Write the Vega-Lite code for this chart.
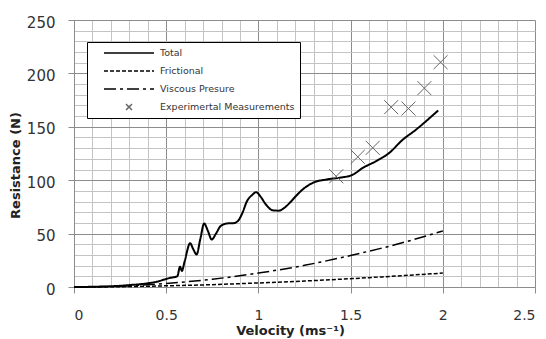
{
  "$schema": "https://vega.github.io/schema/vega-lite/v6.json",
  "width": 461,
  "height": 267,
  "autosize": {"type": "none"},
  "padding": {"left": 74, "top": 20, "right": 11, "bottom": 52},
  "background": "white",
  "datasets": {
    "lines": [
      {"series": "Total", "v": 0, "r": 0},
      {"series": "Total", "v": 0.1, "r": 0.2},
      {"series": "Total", "v": 0.2, "r": 0.7},
      {"series": "Total", "v": 0.3, "r": 1.8},
      {"series": "Total", "v": 0.4, "r": 3.5},
      {"series": "Total", "v": 0.45, "r": 5},
      {"series": "Total", "v": 0.49, "r": 7},
      {"series": "Total", "v": 0.52, "r": 8.5},
      {"series": "Total", "v": 0.56, "r": 10},
      {"series": "Total", "v": 0.575, "r": 19},
      {"series": "Total", "v": 0.585, "r": 15},
      {"series": "Total", "v": 0.6, "r": 24},
      {"series": "Total", "v": 0.63, "r": 41},
      {"series": "Total", "v": 0.645, "r": 36},
      {"series": "Total", "v": 0.665, "r": 30.5},
      {"series": "Total", "v": 0.685, "r": 45},
      {"series": "Total", "v": 0.706, "r": 59.5},
      {"series": "Total", "v": 0.725, "r": 53},
      {"series": "Total", "v": 0.747, "r": 44.5},
      {"series": "Total", "v": 0.77, "r": 50},
      {"series": "Total", "v": 0.795, "r": 57},
      {"series": "Total", "v": 0.83, "r": 59.5},
      {"series": "Total", "v": 0.865, "r": 59.8},
      {"series": "Total", "v": 0.89, "r": 62},
      {"series": "Total", "v": 0.91, "r": 68},
      {"series": "Total", "v": 0.94, "r": 81},
      {"series": "Total", "v": 0.965, "r": 86},
      {"series": "Total", "v": 0.988, "r": 88.8},
      {"series": "Total", "v": 1.01, "r": 85},
      {"series": "Total", "v": 1.042, "r": 77},
      {"series": "Total", "v": 1.078, "r": 71.8},
      {"series": "Total", "v": 1.11, "r": 71.5},
      {"series": "Total", "v": 1.14, "r": 74},
      {"series": "Total", "v": 1.17, "r": 78.8},
      {"series": "Total", "v": 1.2, "r": 84.5},
      {"series": "Total", "v": 1.24, "r": 91.3},
      {"series": "Total", "v": 1.295, "r": 97.5},
      {"series": "Total", "v": 1.37, "r": 100.7},
      {"series": "Total", "v": 1.44, "r": 102.3},
      {"series": "Total", "v": 1.51, "r": 105},
      {"series": "Total", "v": 1.566, "r": 111.5},
      {"series": "Total", "v": 1.64, "r": 118},
      {"series": "Total", "v": 1.71, "r": 125.6},
      {"series": "Total", "v": 1.78, "r": 137.5},
      {"series": "Total", "v": 1.856, "r": 147.5},
      {"series": "Total", "v": 1.93, "r": 158.4},
      {"series": "Total", "v": 1.975, "r": 165.3},
      {"series": "Frictional", "v": 0, "r": 0},
      {"series": "Frictional", "v": 0.25, "r": 0.3},
      {"series": "Frictional", "v": 0.5, "r": 1.1},
      {"series": "Frictional", "v": 0.75, "r": 2.2},
      {"series": "Frictional", "v": 1.0, "r": 3.8},
      {"series": "Frictional", "v": 1.25, "r": 5.6},
      {"series": "Frictional", "v": 1.5, "r": 7.8},
      {"series": "Frictional", "v": 1.75, "r": 10.3},
      {"series": "Frictional", "v": 2.0, "r": 13},
      {"series": "Viscous Presure", "v": 0, "r": 0},
      {"series": "Viscous Presure", "v": 0.25, "r": 0.8},
      {"series": "Viscous Presure", "v": 0.5, "r": 3.3},
      {"series": "Viscous Presure", "v": 0.75, "r": 7.3},
      {"series": "Viscous Presure", "v": 1.0, "r": 13},
      {"series": "Viscous Presure", "v": 1.25, "r": 20.3},
      {"series": "Viscous Presure", "v": 1.5, "r": 29.5},
      {"series": "Viscous Presure", "v": 1.75, "r": 40},
      {"series": "Viscous Presure", "v": 2.0, "r": 52.5}
    ],
    "points": [
      {"series": "Experimertal Measurements", "v": 1.422, "r": 103.7},
      {"series": "Experimertal Measurements", "v": 1.539, "r": 121.9},
      {"series": "Experimertal Measurements", "v": 1.62, "r": 130.3},
      {"series": "Experimertal Measurements", "v": 1.72, "r": 168.4},
      {"series": "Experimertal Measurements", "v": 1.814, "r": 167.1},
      {"series": "Experimertal Measurements", "v": 1.9, "r": 186.2},
      {"series": "Experimertal Measurements", "v": 1.988, "r": 210.5}
    ]
  },
  "encoding": {
    "x": {
      "field": "v", "type": "quantitative",
      "scale": {"domain": [0, 2.5], "nice": false, "zero": false},
      "axis": {
        "title": "Velocity (ms⁻¹)",
        "values": [0, 0.1, 0.2, 0.3, 0.4, 0.5, 0.6, 0.7, 0.8, 0.9, 1, 1.1, 1.2, 1.3, 1.4, 1.5, 1.6, 1.7, 1.8, 1.9, 2, 2.1, 2.2, 2.3, 2.4, 2.5],
        "format": "~g",
        "labelExpr": "round(datum.value*10) % 5 === 0 ? datum.label : ''",
        "gridColor": {"condition": {"test": "round(datum.value*10) % 5 === 0", "value": "#8c8c8c"}, "value": "#c4c4c4"},
        "tickOpacity": {"condition": {"test": "round(datum.value*10) % 5 === 0", "value": 1}, "value": 0},
        "tickSize": 6,
        "labelFontSize": 14,
        "labelPadding": 15,
        "titleX": 216,
        "titlePadding": 2
      }
    },
    "y": {
      "field": "r", "type": "quantitative",
      "scale": {"domain": [0, 250], "nice": false},
      "axis": {
        "title": "Resistance (N)",
        "values": [0, 10, 20, 30, 40, 50, 60, 70, 80, 90, 100, 110, 120, 130, 140, 150, 160, 170, 180, 190, 200, 210, 220, 230, 240, 250],
        "labelExpr": "datum.value % 50 === 0 ? datum.label : ''",
        "gridColor": {"condition": {"test": "datum.value % 50 === 0", "value": "#8c8c8c"}, "value": "#c4c4c4"},
        "tickOpacity": {"condition": {"test": "datum.value % 50 === 0", "value": 1}, "value": 0},
        "tickSize": 6,
        "labelPadding": 13,
        "labelBaseline": "middle",
        "labelOffset": 2,
        "titleY": 145,
        "titlePadding": 4
      }
    }
  },
  "layer": [
    {
      "data": {"name": "lines"},
      "transform": [{"filter": "datum.series !== 'Total'"}],
      "mark": {"type": "line", "strokeWidth": 1.5, "interpolate": "monotone"},
      "encoding": {
        "strokeDash": {"field": "series", "type": "nominal", "title": null,
          "scale": {"domain": ["Total", "Frictional", "Viscous Presure", "Experimertal Measurements"], "range": [[1, 0], [4, 2], [12, 4, 3, 4], [1, 0]]}},
        "color": {"field": "series", "type": "nominal", "title": null,
          "scale": {"domain": ["Total", "Frictional", "Viscous Presure", "Experimertal Measurements"], "range": ["#000000", "#000000", "#000000", "#666666"]}}
      }
    },
    {
      "data": {"name": "lines"},
      "transform": [{"filter": "datum.series === 'Total'"}],
      "mark": {"type": "line", "strokeWidth": 2, "interpolate": "monotone"},
      "encoding": {
        "strokeDash": {"field": "series", "type": "nominal", "title": null,
          "scale": {"domain": ["Total", "Frictional", "Viscous Presure", "Experimertal Measurements"], "range": [[1, 0], [4, 2], [12, 4, 3, 4], [1, 0]]}},
        "color": {"field": "series", "type": "nominal", "title": null,
          "scale": {"domain": ["Total", "Frictional", "Viscous Presure", "Experimertal Measurements"], "range": ["#000000", "#000000", "#000000", "#666666"]}}
      }
    },
    {
      "data": {"name": "points"},
      "mark": {"type": "point", "filled": false, "size": 544, "strokeWidth": 1, "opacity": 1},
      "encoding": {
        "shape": {"field": "series", "type": "nominal", "title": null,
          "scale": {"domain": ["Total", "Frictional", "Viscous Presure", "Experimertal Measurements"], "range": ["M-5,0L5,0", "M-5,0L5,0", "M-5,0L5,0", "M-0.6,-0.6L0.6,0.6M0.6,-0.6L-0.6,0.6"]}},
        "color": {"field": "series", "type": "nominal", "title": null,
          "scale": {"domain": ["Total", "Frictional", "Viscous Presure", "Experimertal Measurements"], "range": ["#000000", "#000000", "#000000", "#666666"]}}
      }
    }
  ],
  "config": {
    "view": {"stroke": null},
    "font": "DejaVu Sans",
    "axis": {
      "domainColor": "#8c8c8c",
      "tickColor": "#8c8c8c",
      "labelFont": "DejaVu Sans",
      "labelFontSize": 15,
      "labelColor": "#333333",
      "titleFont": "DejaVu Sans",
      "titleFontSize": 13,
      "titleFontWeight": "bold",
      "titleColor": "#222222",
      "grid": true,
      "gridWidth": 1
    },
    "legend": {
      "orient": "none",
      "legendX": 13,
      "legendY": 22,
      "padding": 5,
      "symbolOffset": 31,
      "strokeColor": "#000000",
      "fillColor": "#ffffff",
      "labelFont": "DejaVu Sans",
      "labelFontSize": 9.5,
      "labelColor": "#333333",
      "labelOffset": 25,
      "symbolSize": 100,
      "symbolStrokeWidth": 1.5,
      "rowPadding": 7
    }
  }
}
